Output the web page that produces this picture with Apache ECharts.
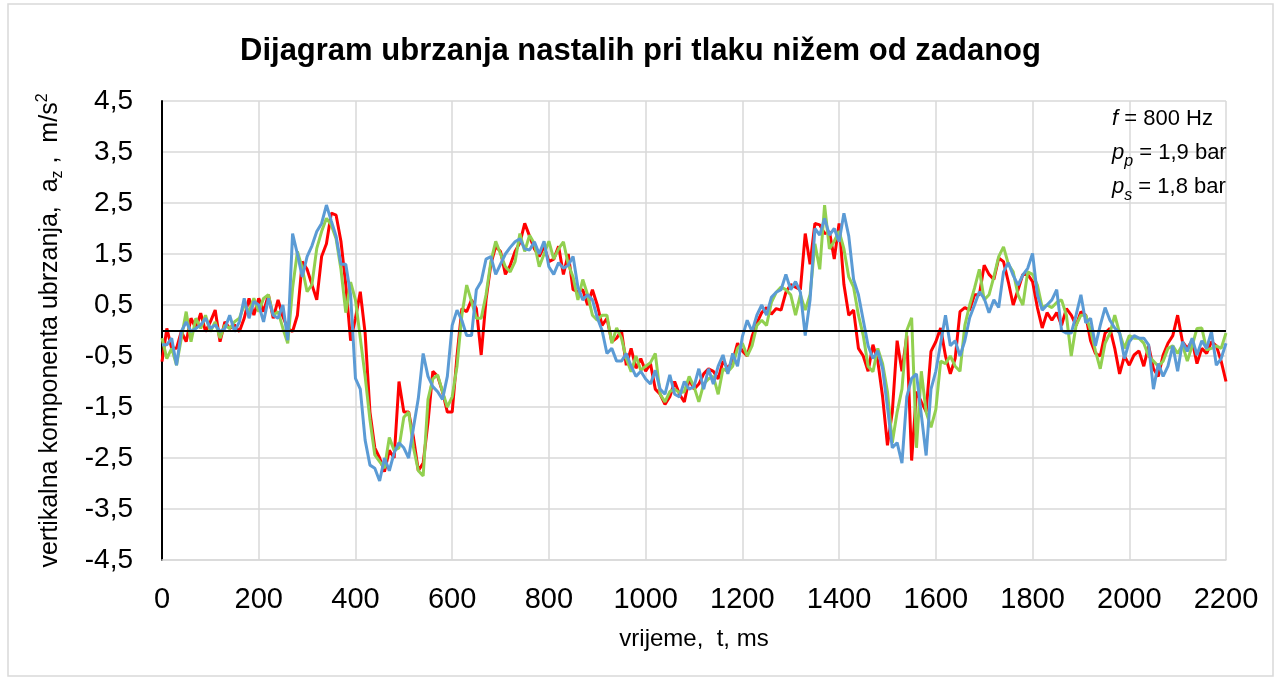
<!DOCTYPE html>
<html>
<head>
<meta charset="utf-8">
<script src="https://cdn.jsdelivr.net/npm/echarts@6/dist/echarts.min.js"></script>
<style>
  html, body { margin: 0; padding: 0; background: #fff; }
  #chart { width: 1281px; height: 681px; }
</style>
</head>
<body>
<div id="chart"></div>
<script>
// samples every 10 ms, 0 .. 2200 ms
const STEP_MS = 10

const red = [
  -0.61, 0.04, -0.35, -0.35, -0.02, -0.22, 0.24, 0.04, 0.34, -0.02,
  0.17, 0.4, -0.22, 0.17, 0.04, 0.11, -0.02, 0.24, 0.63, 0.3,
  0.63, 0.37, 0.7, 0.24, 0.6, 0.27, 0.04, -0.02, 0.3, 1.35,
  1.2, 0.9, 0.6, 1.45, 1.7, 2.3, 2.26, 1.75, 0.9, -0.2,
  0.24, 0.76, -0.05, -1.6, -2.3, -2.5, -2.77, -2.35, -2.5, -1.0,
  -1.6, -1.6, -2.1, -2.75, -2.6, -1.8, -0.8, -0.9, -1.2, -1.6,
  -1.6, -0.5, 0.43, 0.37, 0.6, 0.43, -0.48, 0.6, 1.3, 1.65,
  1.55, 1.1, 1.28, 1.55, 1.72, 2.1, 1.85, 1.6, 1.45, 1.65,
  1.35, 1.4, 1.65, 1.1, 1.5, 0.8, 0.76, 0.8, 0.5, 0.8,
  0.5, 0.1, 0.24, -0.22, -0.15, 0.0, -0.68, -0.35, -0.74, -0.55,
  -0.8, -0.65, -1.15, -1.25, -1.45, -1.3, -1.0, -1.25, -1.4, -0.95,
  -1.15, -1.05, -0.85, -0.75, -0.8, -0.95, -0.6, -0.74, -0.6, -0.25,
  -0.4, -0.5, -0.12, 0.15, 0.35, 0.45, 0.32, 0.43, 0.4, 0.75,
  0.9, 0.85, 0.8, 1.9, 1.3, 2.1, 2.07, 1.9, 1.94, 1.4,
  2.1, 0.9, 0.3, 0.4, -0.35, -0.5, -0.8, -0.28, -0.6, -1.3,
  -2.25, -1.6, -0.2, -0.8, -0.1, -2.55, -1.2, -1.4, -1.59, -0.41,
  -0.22, 0.05, -0.5, -0.85, -0.55, 0.37, 0.45, 0.4, 0.7, 0.7,
  1.28, 1.1, 1.0, 1.42, 1.35, 0.95, 0.5, 0.8, 1.1, 1.1,
  0.96, 0.45, 0.05, 0.35, 0.2, 0.35, 0.1, 0.43, 0.3, 0.1,
  0.37, 0.3, -0.2, -0.45, -0.5, -0.05, 0.04, -0.35, -0.85, -0.5,
  -0.68, -0.48, -0.4, -0.7, -0.3, -0.75, -0.9, -0.48, -0.25, -0.1,
  0.3, -0.22, -0.35, -0.2, -0.65, -0.35, -0.45, -0.22, -0.3, -0.6,
  -1.0
]

const green = [
  -0.15, -0.55, -0.35, -0.68, -0.15, 0.37, -0.22, 0.24, 0.04, 0.3,
  -0.02, 0.17, -0.15, 0.11, 0.04, 0.17, 0.24, 0.5, 0.37, 0.63,
  0.37, 0.63, 0.7, 0.3, 0.37, 0.04, -0.25, 0.83, 1.55, 1.22,
  0.76, 0.9, 1.61, 1.94, 2.2, 2.07, 1.8, 1.2, 0.35, 0.95,
  0.6, -0.15, -0.9, -1.75, -2.44, -2.57, -2.7, -2.1, -2.35, -2.3,
  -1.7, -1.6, -2.3, -2.75, -2.85, -1.35, -0.95, -0.87, -1.2, -1.5,
  -1.3, -0.7, 0.3, 0.89, 0.57, 0.24, 0.24, 0.7, 1.35, 1.75,
  1.5, 1.25, 1.15, 1.35, 1.9, 1.55, 1.87, 1.7, 1.25, 1.5,
  1.75, 1.4, 1.6, 1.74, 1.3, 1.05, 0.6, 1.0, 0.7, 0.3,
  0.2, 0.3, 0.3, -0.25, 0.05, -0.15, -0.55, -0.81, -0.5, -0.78,
  -0.7, -0.63, -0.45, -1.25, -1.4, -1.2, -1.15, -1.22, -1.2, -0.9,
  -1.1, -1.4, -1.05, -0.95, -0.9, -1.25, -0.75, -0.81, -0.7, -0.35,
  -0.25, -0.5, -0.3, 0.1, 0.2, 0.1, 0.55, 0.75, 0.85, 0.8,
  0.7, 0.3, 0.7, 0.4, 0.7, 1.7, 1.2, 2.46, 1.6, 1.75,
  1.95, 1.6, 1.05, 0.85, 0.3, -0.1, -0.7, -0.81, -0.35, -0.65,
  -1.2, -2.2, -1.6, -1.15, 0.0, 0.25, -2.3, -0.8, -1.6, -1.9,
  -1.55, -0.6, -0.65, -0.5, -0.7, -0.8, 0.1, 0.5, 0.83, 1.2,
  0.6, 0.7, 1.05, 1.45, 1.64, 1.3, 1.15, 0.7, 0.5, 1.15,
  1.1, 0.89, 0.45, 0.5, 0.45, 0.55, 0.6, 0.3, -0.5, 0.1,
  0.3, 0.3, 0.0, -0.4, -0.75, -0.25, -0.05, 0.3, -0.05, -0.35,
  -0.1, -0.15, -0.15, -0.25, -0.5, -0.6, -0.7, -0.6, -0.35, -0.3,
  -0.45, -0.28, -0.6, -0.3, 0.04, 0.05, -0.38, -0.35, -0.3, -0.35,
  -0.05
]

const blue = [
  -0.28, -0.28, -0.15, -0.68, -0.02, 0.17, -0.02, 0.04, 0.11, 0.24,
  0.04, 0.11, -0.02, 0.04, 0.3, -0.02, 0.17, 0.63, 0.24, 0.57,
  0.5, 0.17, 0.63, 0.3, 0.24, 0.5, -0.19, 1.9, 1.5, 1.05,
  1.45, 1.66, 1.94, 2.1, 2.46, 2.15, 1.85, 1.3, 1.3, 0.7,
  -0.94, -1.15, -2.15, -2.64, -2.7, -2.95, -2.5, -2.75, -2.4, -2.2,
  -2.3, -2.5, -1.9, -1.33, -0.45, -0.9, -1.1, -1.2, -1.35, -0.9,
  0.1, 0.4, 0.2, -0.1, -0.1, 0.8, 0.96, 1.4, 1.45, 1.1,
  1.3, 1.5, 1.63, 1.74, 1.8, 1.6, 1.58, 1.74, 1.5, 1.75,
  1.25, 1.1, 1.33, 1.22, 1.28, 1.45, 0.85, 0.6, 0.7, 0.6,
  0.25, 0.0, -0.45, -0.35, -0.6, -0.6, -0.45, -0.7, -0.9, -0.8,
  -0.95, -1.05, -0.78, -1.15, -1.25, -0.87, -1.25, -1.3, -1.0, -1.15,
  -1.1, -0.75, -1.15, -0.75, -1.05, -0.7, -0.48, -0.85, -0.45, -0.7,
  -0.12, 0.2, -0.02, 0.3, 0.5, 0.3, 0.65, 0.75, 0.8, 1.1,
  0.8, 0.96, 0.75, -0.1, 0.6, 2.0, 1.87, 2.2, 1.87, 2.0,
  1.74, 2.3, 1.85, 1.0, 0.7, 0.2, -0.3, -0.55, -0.4, -0.75,
  -1.5, -2.3, -2.2, -2.6, -1.3, -0.94, -0.85, -1.65, -2.45, -1.15,
  -0.8, -0.25, 0.3, -0.3, -0.2, -0.5, -0.2, 0.25, 0.5, 0.76,
  0.63, 0.35, 0.6, 0.45, 1.15, 1.33, 1.08, 0.89, 1.09, 1.22,
  1.51, 0.7, 0.4, 0.5, 0.6, 0.8, 0.0, -0.05, -0.05, 0.3,
  0.7, 0.15, 0.24, -0.3, 0.1, 0.45, 0.2, 0.05, -0.05, -0.55,
  -0.22, -0.1, -0.15, -0.15, -0.28, -1.15, -0.65, -0.9, -0.7, -0.3,
  -0.8, -0.22, -0.41, -0.15, -0.48, -0.2, -0.35, -0.02, -0.68, -0.55,
  -0.25
]

const FONT = 'Liberation Sans, Arial, sans-serif'
const comma = v => v.toFixed(1).replace('.', ',')
const withTime = arr => arr.map((v, i) => [i * STEP_MS, v])

const chart = echarts.init(document.getElementById('chart'))

const lineSeries = (name, data, color) => ({
  name: name,
  type: 'line',
  data: withTime(data),
  showSymbol: false,
  lineStyle: { color: color, width: 3 },
  itemStyle: { color: color },
  z: 3
})

const option = {
  animation: false,
  backgroundColor: '#fff',
  textStyle: { fontFamily: FONT },
  title: {
    text: 'Dijagram ubrzanja nastalih pri tlaku nižem od zadanog',
    left: 'center',
    top: 31,
    textStyle: { fontFamily: FONT, fontSize: 31, fontWeight: 'bold', color: '#000' }
  },
  grid: { left: 162, right: 55, top: 101, bottom: 121 },
  xAxis: {
    type: 'value',
    min: 0,
    max: 2200,
    interval: 200,
    name: 'vrijeme,  t, ms',
    nameLocation: 'middle',
    nameGap: 67,
    nameTextStyle: { fontFamily: FONT, fontSize: 24, color: '#000' },
    axisLine: { onZero: false, lineStyle: { color: '#d9d9d9', width: 1.5 } },
    axisTick: { show: false },
    axisLabel: { fontFamily: FONT, fontSize: 29, color: '#000', margin: 25, formatter: v => String(v) },
    splitLine: { show: true, lineStyle: { color: '#d9d9d9', width: 1.5 } }
  },
  yAxis: {
    type: 'value',
    min: -4.5,
    max: 4.5,
    interval: 1,
    name: '{t|vertikalna komponenta ubrzanja,  a}{sub|z}{t| ,  m/s}{sup|2}',
    nameLocation: 'middle',
    nameGap: 96,
    nameRotate: 90,
    nameTextStyle: {
      rich: {
        t: { fontFamily: FONT, fontSize: 25, color: '#000', lineHeight: 31 },
        sub: { fontFamily: FONT, fontSize: 16, color: '#000', verticalAlign: 'bottom', lineHeight: 31 },
        sup: { fontFamily: FONT, fontSize: 16, color: '#000', verticalAlign: 'top', lineHeight: 31 }
      }
    },
    axisLine: { show: true, lineStyle: { color: '#000', width: 2 } },
    axisTick: { show: false },
    axisLabel: { fontFamily: FONT, fontSize: 28, color: '#000', margin: 29, formatter: comma },
    splitLine: { show: true, lineStyle: { color: '#d9d9d9', width: 1.5 } }
  },
  graphic: [
    {
      type: 'rect',
      shape: { x: 8, y: 4, width: 1265, height: 672 },
      style: { fill: 'none', stroke: '#d9d9d9', lineWidth: 1.5 },
      z: -10
    },
    {
      type: 'text',
      left: 1112,
      top: 102,
      style: {
        text: '{i|f} = 800 Hz\n{i|p}{sub|p} = 1,9 bar\n{i|p}{sub|s} = 1,8 bar',
        fill: '#000',
        font: '22px ' + FONT,
        lineHeight: 34,
        rich: {
          i: { fontFamily: FONT, fontSize: 22, fontStyle: 'italic', lineHeight: 34 },
          sub: { fontFamily: FONT, fontSize: 16, fontStyle: 'italic', verticalAlign: 'bottom', lineHeight: 34 }
        }
      },
      z: 10
    }
  ],
  series: [
    {
      // zero line of the chart
      type: 'line',
      data: [],
      z: 2,
      markLine: {
        silent: true,
        symbol: 'none',
        label: { show: false },
        lineStyle: { color: '#000', width: 2, type: 'solid' },
        data: [{ yAxis: 0 }]
      }
    },
    lineSeries('red', red, '#ff0000'),
    lineSeries('green', green, '#92d050'),
    lineSeries('blue', blue, '#5b9bd5')
  ]
}

chart.setOption(option)
</script>
</body>
</html>
